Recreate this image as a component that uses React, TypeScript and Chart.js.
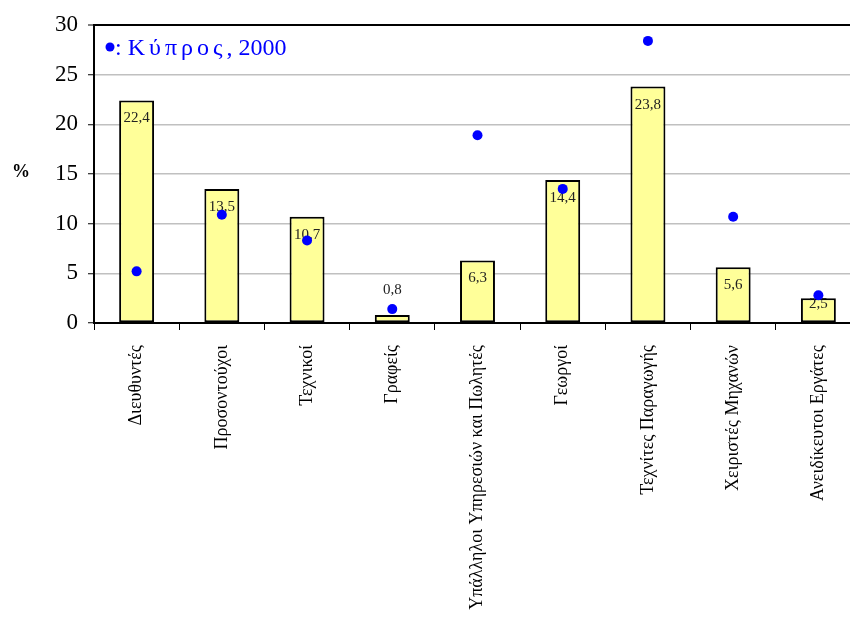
import React, { useEffect, useRef } from "react";
import { Chart, registerables } from "chart.js";
Chart.register(...registerables);

const categories = [
  "Διευθυντές",
  "Προσοντούχοι",
  "Τεχνικοί",
  "Γραφείς",
  "Υπάλληλοι Υπηρεσιών και Πωλητές",
  "Γεωργοί",
  "Τεχνίτες Παραγωγής",
  "Χειριστές Μηχανών",
  "Ανειδίκευτοι Εργάτες",
];
const barValues = [22.4, 13.5, 10.7, 0.8, 6.3, 14.4, 23.8, 5.6, 2.5];
const cyprusValues = [5.2, 10.9, 8.3, 1.4, 18.9, 13.5, 28.4, 10.7, 2.8];
const yMin = 0;
const yMax = 30;
const yStep = 5;
const legendParts = [": ", "Κύπρος", ", 2000"];
const yAxisLabel = "%";

const SERIF = "'Liberation Serif', 'Times New Roman', serif";

const overlay = {
  id: "overlay",
  afterDatasetDraw(chart: any, args: any) {
    if (args.index !== 0) return;
    const ctx = chart.ctx;
    const meta = chart.getDatasetMeta(0);
    ctx.save();
    ctx.font = `15px ${SERIF}`;
    ctx.fillStyle = "#222";
    ctx.textAlign = "center";
    ctx.textBaseline = "middle";
    meta.data.forEach((bar: any, i: number) => {
      const { x, y, base } = bar.getProps(["x", "y", "base"], true);
      const h = base - y;
      const ly = h >= 40 ? y + 18 : h < 15 ? y - 25 : y + 6;
      ctx.fillText(barValues[i].toFixed(1).replace(".", ","), x, ly);
    });
    ctx.restore();
  },
  afterDraw(chart: any) {
    const ctx = chart.ctx;
    const area = chart.chartArea;
    ctx.save();
    // legend
    ctx.fillStyle = "#0000FF";
    ctx.beginPath();
    ctx.arc(area.left + 16, area.top + 22, 4.5, 0, Math.PI * 2);
    ctx.fill();
    ctx.font = `24px ${SERIF}`;
    ctx.textAlign = "left";
    ctx.textBaseline = "alphabetic";
    let x = area.left + 21;
    const y = area.top + 30;
    legendParts.forEach((part, i) => {
      (ctx as any).letterSpacing = i === 1 ? "4px" : "0px";
      ctx.fillText(part, x, y);
      x += ctx.measureText(part).width;
    });
    (ctx as any).letterSpacing = "0px";
    // y axis label
    ctx.fillStyle = "#000";
    ctx.font = `bold 18px ${SERIF}`;
    ctx.textAlign = "center";
    ctx.textBaseline = "middle";
    ctx.fillText(yAxisLabel, 21, 172);
    ctx.restore();
  },
};

export default function App() {
  const ref = useRef<HTMLCanvasElement>(null);
  useEffect(() => {
    if (!ref.current) return;
    const chart = new Chart(ref.current, {
      type: "bar",
      data: {
        labels: categories,
        datasets: [
          {
            type: "bar",
            data: barValues,
            backgroundColor: "#FFFF99",
            borderColor: "#000",
            borderWidth: 2,
            borderSkipped: false,
            categoryPercentage: 1,
            barPercentage: 0.41,
            order: 1,
          } as any,
          {
            type: "line",
            data: cyprusValues,
            showLine: false,
            pointRadius: 5,
            pointBackgroundColor: "#0000FF",
            pointBorderWidth: 0,
            pointBorderColor: "#0000FF",
            order: 0,
          } as any,
        ],
      },
      options: {
        responsive: false,
        animation: false,
        layout: { autoPadding: false, padding: { top: 25, left: 0, right: 0, bottom: 0 } },
        plugins: { legend: { display: false }, tooltip: { enabled: false } },
        scales: {
          x: {
            offset: true,
            grid: {
              offset: true,
              drawOnChartArea: false,
              drawTicks: true,
              tickLength: 7,
              tickColor: "#000",
              tickWidth: 1,
            },
            border: { color: "#000", width: 2 },
            ticks: {
              maxRotation: 90,
              minRotation: 90,
              autoSkip: false,
              padding: 15,
              color: "#000",
              font: { family: SERIF, size: 18 },
            },
            afterFit(scale: any) {
              scale.height = 298;
              scale.paddingLeft = 0;
              scale.paddingRight = 0;
            },
          },
          y: {
            min: yMin,
            max: yMax,
            grid: {
              color: (c: any) =>
                c.tick && c.tick.value === yMax ? "#000" : c.tick && c.tick.value === yMin ? "rgba(0,0,0,0)" : "#c0c0c0",
              lineWidth: (c: any) => (c.tick && c.tick.value === yMax ? 2 : 1.5),
              tickColor: "#000",
              tickLength: 6,
              tickWidth: 1,
            },
            border: { color: "#000", width: 2 },
            ticks: {
              stepSize: yStep,
              padding: 10,
              color: "#000",
              font: { family: SERIF, size: 23 },
            },
            afterFit(scale: any) {
              scale.width = 94;
              scale.paddingTop = 0;
              scale.paddingBottom = 0;
            },
          },
        },
      },
      plugins: [overlay],
    });
    return () => chart.destroy();
  }, []);
  return (
    <div
      style={{
        position: "absolute",
        left: 0,
        top: 0,
        width: 850,
        height: 621,
        overflow: "hidden",
        background: "#fff",
      }}
    >
      <canvas ref={ref} width={861} height={621} style={{ display: "block" }} />
    </div>
  );
}
